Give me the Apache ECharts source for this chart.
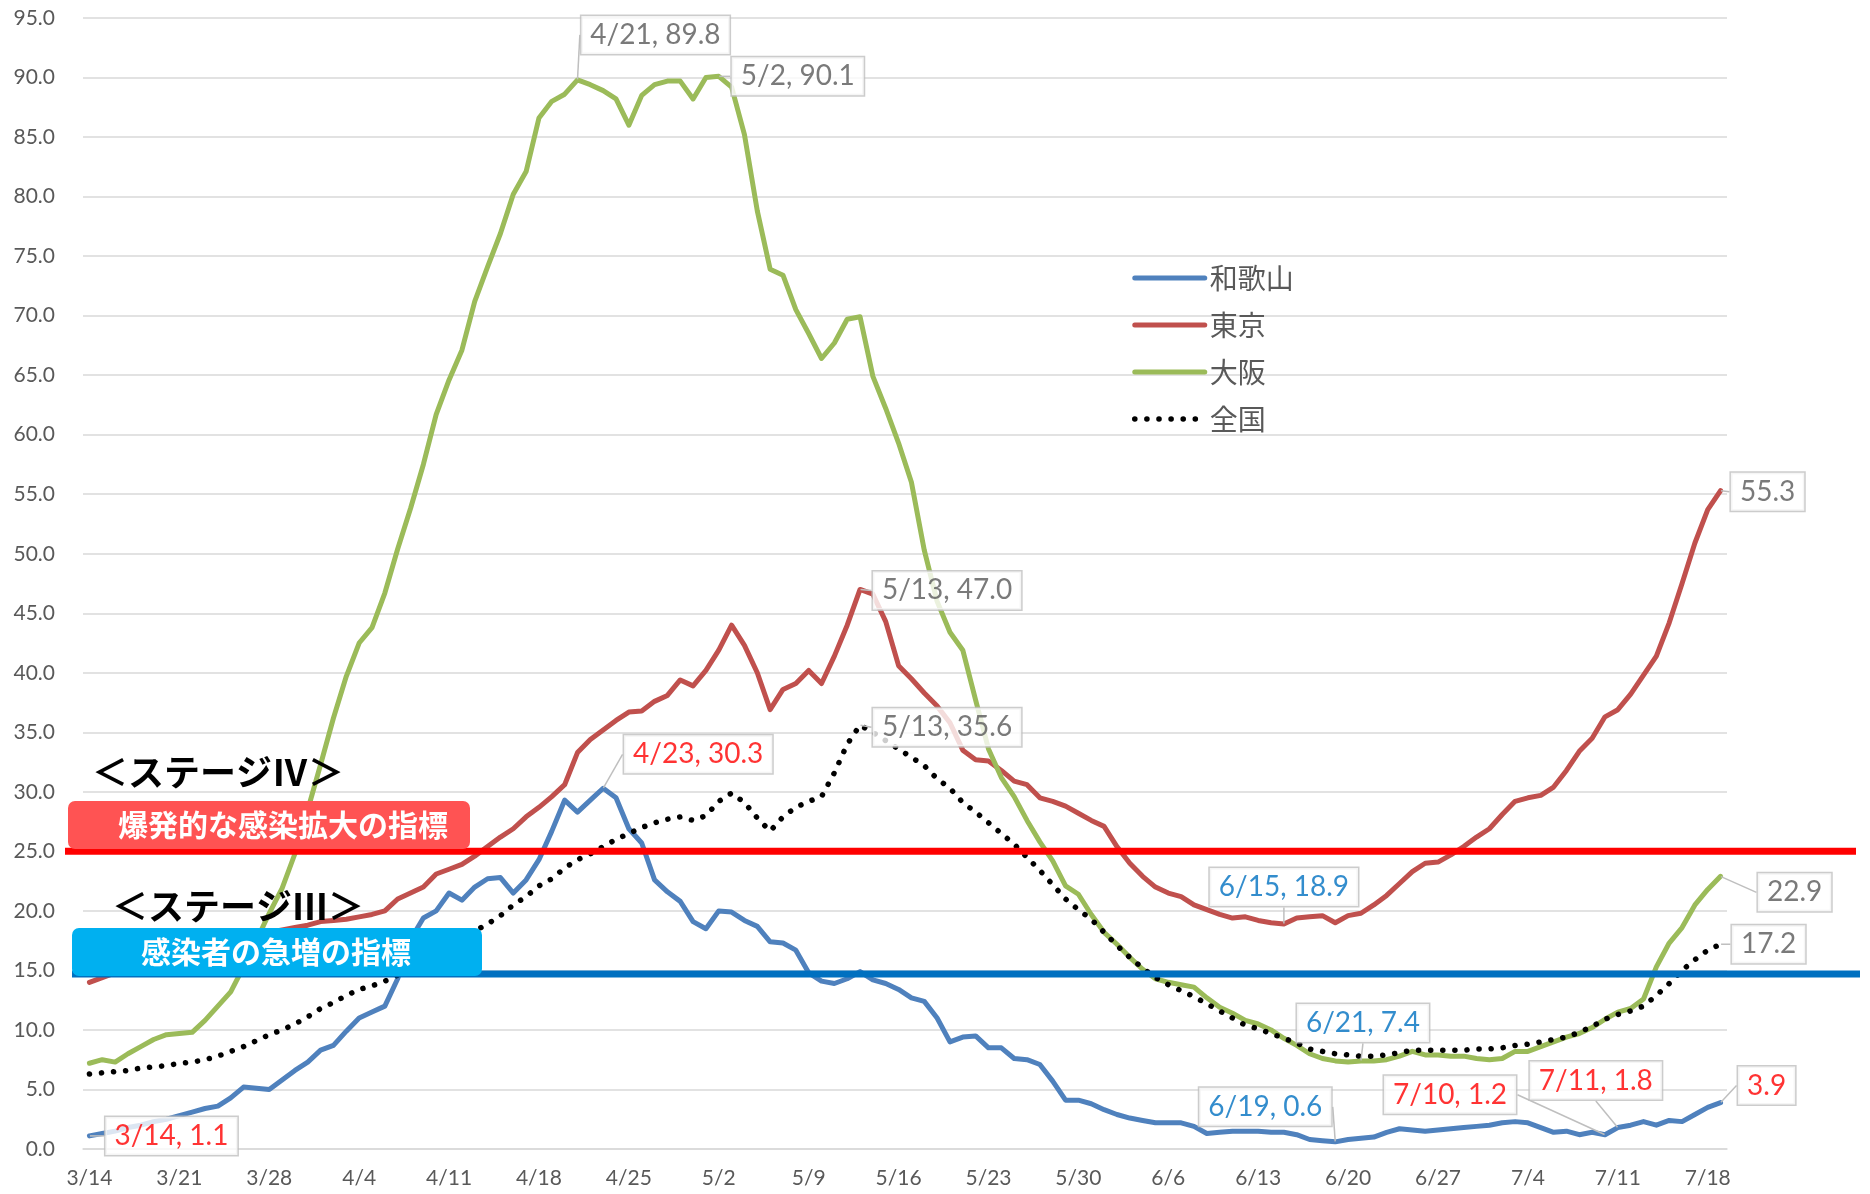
<!DOCTYPE html>
<html>
<head>
<meta charset="UTF-8">
<title>直近1週間の人口10万人あたり新規感染者数</title>
<script src="https://cdn.jsdelivr.net/npm/echarts@6/dist/echarts.min.js"></script>
<style>html,body{margin:0;padding:0;background:#fff;}</style>
</head>
<body>
<div id="chart" style="width:1870px;height:1194px;"></div>
<script>
// 日付 3/14 〜 7/19
const dates = [];
for (let d = new Date(2021, 2, 14); dates.length < 128; d.setDate(d.getDate() + 1)) {
  dates.push((d.getMonth() + 1) + '/' + d.getDate());
}

const wakayama = [1.1, 1.3, 1.5, 1.8, 2.0, 2.3, 2.5, 2.8, 3.1, 3.4, 3.6, 4.3, 5.2, 5.1, 5.0, 5.8, 6.6, 7.3, 8.3, 8.7,
  9.9, 11.0, 11.5, 12.0, 14.3, 17.6, 19.4, 20.0, 21.5, 20.9, 22.0, 22.7, 22.8, 21.5, 22.6, 24.3, 26.7, 29.3, 28.3, 29.3,
  30.3, 29.5, 26.9, 25.7, 22.6, 21.6, 20.8, 19.1, 18.5, 20.0, 19.9, 19.2, 18.7, 17.4, 17.3, 16.7, 14.8, 14.1, 13.9, 14.3,
  14.9, 14.2, 13.9, 13.4, 12.7, 12.4, 11.0, 9.0, 9.4, 9.5, 8.5, 8.5, 7.6, 7.5, 7.1, 5.7, 4.1, 4.1, 3.8, 3.3,
  2.9, 2.6, 2.4, 2.2, 2.2, 2.2, 1.9, 1.3, 1.4, 1.5, 1.5, 1.5, 1.4, 1.4, 1.2, 0.8, 0.7, 0.6, 0.8, 0.9,
  1.0, 1.4, 1.7, 1.6, 1.5, 1.6, 1.7, 1.8, 1.9, 2.0, 2.2, 2.3, 2.2, 1.8, 1.4, 1.5, 1.2, 1.4, 1.2, 1.8,
  2.0, 2.3, 2.0, 2.4, 2.3, 2.9, 3.5, 3.9];

const tokyo = [14.0, 14.4, 14.8, 15.1, 15.4, 15.6, 15.9, 16.2, 16.5, 16.8, 17.0, 17.3, 17.6, 17.9, 18.2, 18.4, 18.6, 18.8, 19.1, 19.2,
  19.3, 19.5, 19.7, 20.0, 21.0, 21.5, 22.0, 23.1, 23.5, 23.9, 24.6, 25.4, 26.2, 26.9, 27.9, 28.7, 29.6, 30.6, 33.3, 34.4,
  35.2, 36.0, 36.7, 36.8, 37.6, 38.1, 39.4, 38.9, 40.2, 41.9, 44.0, 42.3, 40.0, 36.9, 38.6, 39.1, 40.2, 39.1, 41.4, 44.0,
  47.0, 46.6, 44.3, 40.6, 39.5, 38.3, 37.2, 35.8, 33.5, 32.7, 32.6, 31.8, 30.9, 30.6, 29.5, 29.2, 28.8, 28.2, 27.6, 27.1,
  25.4, 24.0, 22.9, 22.0, 21.5, 21.2, 20.5, 20.1, 19.7, 19.4, 19.5, 19.2, 19.0, 18.9, 19.4, 19.5, 19.6, 19.0, 19.6, 19.8,
  20.5, 21.3, 22.3, 23.3, 24.0, 24.1, 24.7, 25.4, 26.2, 26.9, 28.1, 29.2, 29.5, 29.7, 30.4, 31.8, 33.4, 34.5, 36.3, 36.9,
  38.2, 39.8, 41.4, 44.2, 47.5, 50.9, 53.7, 55.3];

const osaka = [7.2, 7.5, 7.3, 8.0, 8.6, 9.2, 9.6, 9.7, 9.8, 10.8, 12.0, 13.2, 15.3, 17.5, 19.8, 21.9, 24.8, 28.5, 32.3, 36.2,
  39.7, 42.5, 43.8, 46.7, 50.4, 53.8, 57.5, 61.7, 64.6, 67.1, 71.2, 74.1, 76.9, 80.2, 82.1, 86.6, 88.0, 88.6, 89.8, 89.4,
  88.9, 88.2, 86.0, 88.5, 89.4, 89.7, 89.7, 88.2, 90.0, 90.1, 89.2, 85.2, 78.8, 73.9, 73.4, 70.5, 68.5, 66.4, 67.7, 69.7,
  69.9, 64.9, 62.2, 59.3, 56.0, 50.3, 46.0, 43.4, 41.9, 37.7, 33.6, 31.2, 29.6, 27.6, 25.8, 24.2, 22.1, 21.4, 19.7, 18.2,
  17.2, 16.1, 15.1, 14.3, 14.0, 13.8, 13.6, 12.7, 11.9, 11.4, 10.8, 10.5, 10.0, 9.3, 8.7, 8.0, 7.6, 7.4, 7.3, 7.4,
  7.4, 7.5, 7.8, 8.2, 7.9, 7.9, 7.8, 7.8, 7.6, 7.5, 7.6, 8.2, 8.2, 8.6, 9.0, 9.4, 9.7, 10.2, 10.9, 11.5,
  11.8, 12.6, 15.3, 17.3, 18.6, 20.5, 21.8, 22.9];

const zenkoku = [6.3, 6.4, 6.5, 6.6, 6.8, 6.9, 7.0, 7.2, 7.3, 7.5, 7.8, 8.2, 8.6, 9.1, 9.6, 10.0, 10.5, 11.1, 11.8, 12.3,
  12.9, 13.4, 13.7, 14.1, 14.6, 15.2, 15.8, 16.4, 17.0, 17.6, 18.3, 18.9, 19.6, 20.5, 21.2, 22.1, 22.7, 23.6, 24.3, 24.8,
  25.4, 26.0, 26.5, 27.0, 27.4, 27.7, 27.9, 27.6, 28.0, 29.2, 29.9, 29.1, 27.8, 26.7, 27.9, 28.7, 29.2, 29.6, 31.6, 34.0,
  35.6, 35.0, 34.3, 33.6, 32.9, 32.2, 31.1, 30.3, 29.1, 28.3, 27.4, 26.5, 25.6, 24.5, 23.4, 22.2, 21.0, 20.1, 19.3, 18.2,
  17.1, 16.1, 15.2, 14.4, 13.8, 13.3, 12.8, 12.2, 11.6, 11.0, 10.4, 10.1, 9.7, 9.3, 8.9, 8.4, 8.2, 8.0, 7.9, 7.8,
  7.8, 7.9, 8.1, 8.3, 8.3, 8.3, 8.3, 8.3, 8.4, 8.4, 8.5, 8.7, 8.8, 9.0, 9.2, 9.4, 9.8, 10.3, 10.9, 11.3,
  11.6, 12.0, 12.9, 13.9, 15.0, 15.9, 16.7, 17.2];

const seriesNames = ['和歌山', '東京', '大阪', '全国'];
const seriesValues = {'和歌山': wakayama, '東京': tokyo, '大阪': osaka, '全国': zenkoku};

// ステージの指標（25：ステージⅣ、15：ステージⅢ）
const stage4 = 25;
const stage3 = 14.7;

// 吹き出し: [系列, 日付index, 日付表示, 文字色, dx, dy]
const callouts = [
  ['大阪', 38, true, '#595959', 78, -45],
  ['大阪', 49, true, '#595959', 79, 0],
  ['東京', 60, true, '#595959', 87, 1],
  ['全国', 60, true, '#595959', 87, 2],
  ['和歌山', 40, true, '#FF0000', 95, -34],
  ['和歌山', 0, true, '#FF0000', 82, 0],
  ['東京', 93, true, '#0070C0', 0, -37],
  ['大阪', 99, true, '#0070C0', 2, -38],
  ['和歌山', 97, true, '#0070C0', -70, -35],
  ['和歌山', 118, true, '#FF0000', -155, -40],
  ['和歌山', 119, true, '#FF0000', -22, -47],
  ['和歌山', 127, false, '#FF0000', 46, -17],
  ['東京', 127, false, '#595959', 47, 1],
  ['大阪', 127, false, '#595959', 74, 16],
  ['全国', 127, false, '#595959', 48, 0]
];

const font = 'Lato, "Noto Sans CJK JP", sans-serif';
const colors = ['#4F81BD', '#C0504D', '#9BBB59', '#000000'];
const dotted = {color: '#000', width: 5.5, type: [0.1, 12], cap: 'round'};
const chart = echarts.init(document.getElementById('chart'));

const lineSeries = seriesNames.map((name, k) => ({
  name: name,
  type: 'line',
  data: seriesValues[name],
  symbol: 'none',
  z: k === 3 ? 4 : 3,
  lineStyle: k === 3 ? dotted : {color: colors[k], width: 5, cap: 'round', join: 'round'},
  itemStyle: {color: colors[k]}
}));

const calloutSeries = {
  name: 'callout',
  type: 'scatter',
  symbol: 'circle',
  symbolSize: 1,
  z: 10,
  itemStyle: {color: 'rgba(0,0,0,0)'},
  data: callouts.map(c => {
    const v = seriesValues[c[0]][c[1]];
    const txt = c[2] ? dates[c[1]] + ', ' + v.toFixed(1) : v.toFixed(1);
    return {
      value: [c[1], v],
      label: {formatter: txt, color: c[3]}
    };
  }),
  label: {
    show: true,
    position: 'inside',
    fontFamily: font,
    fontSize: 28,
    backgroundColor: '#fff',
    borderColor: '#BFBFBF',
    borderWidth: 1.5,
    padding: [6, 9, 4, 9]
  },
  labelLine: {show: true, lineStyle: {color: '#BFBFBF', width: 1.5}},
  labelLayout: function (params) {
    const c = callouts[params.dataIndex];
    return {dx: c[4], dy: c[5]};
  },
  emphasis: {disabled: true},
  silent: true
};

chart.setOption({
  animation: false,
  textStyle: {fontFamily: font},
  grid: {left: 83, right: 143, top: 18, bottom: 45},
  legend: {
    data: seriesNames.map((name, k) => ({
      name: name,
      lineStyle: k === 3 ? dotted : {color: colors[k], width: 5, cap: 'round'}
    })),
    orient: 'vertical',
    left: 1127,
    top: 259,
    itemWidth: 70,
    itemHeight: 20,
    itemGap: 19,
    itemStyle: {opacity: 0},
    textStyle: {color: '#595959', fontSize: 28, lineHeight: 28, fontFamily: '"Noto Sans CJK JP", sans-serif'}
  },
  xAxis: {
    type: 'category',
    data: dates,
    boundaryGap: true,
    axisLine: {lineStyle: {color: '#D9D9D9', width: 1.5}},
    axisTick: {interval: 6, length: 8, lineStyle: {color: '#D9D9D9', width: 1.5}},
    axisLabel: {interval: 6, margin: 19, color: '#595959', fontSize: 21, fontFamily: font},
    splitLine: {show: false}
  },
  yAxis: {
    type: 'value',
    min: 0,
    max: 95,
    interval: 5,
    axisLine: {show: false},
    axisTick: {show: false},
    axisLabel: {margin: 28, color: '#595959', fontSize: 21, fontFamily: font, formatter: v => v.toFixed(1)},
    splitLine: {lineStyle: {color: '#D9D9D9', width: 1.5}}
  },
  series: lineSeries.concat([calloutSeries])
});

// 指標ラインと見出し
const y4 = chart.convertToPixel({yAxisIndex: 0}, stage4);
const y3 = chart.convertToPixel({yAxisIndex: 0}, stage3);
const jp = '"Noto Sans CJK JP"';
chart.setOption({
  graphic: [
    {type: 'line', z: 50, shape: {x1: 65, y1: y4, x2: 1856, y2: y4}, style: {stroke: '#FF0000', lineWidth: 7}},
    {type: 'line', z: 50, shape: {x1: 72, y1: y3, x2: 1860, y2: y3}, style: {stroke: '#0070C0', lineWidth: 7}},
    {type: 'rect', z: 60, shape: {x: 68, y: 801, width: 402, height: 48, r: 7}, style: {fill: '#FF5353'}},
    {type: 'text', z: 61, x: 283, y: 825, style: {text: '爆発的な感染拡大の指標', fill: '#fff', fontSize: 30, fontWeight: 'bold', fontFamily: jp, align: 'center', verticalAlign: 'middle'}},
    {type: 'rect', z: 60, shape: {x: 72, y: 928, width: 410, height: 48, r: 7}, style: {fill: '#00B0F0'}},
    {type: 'text', z: 61, x: 276, y: 952, style: {text: '感染者の急増の指標', fill: '#fff', fontSize: 30, fontWeight: 'bold', fontFamily: jp, align: 'center', verticalAlign: 'middle'}},
    {type: 'text', z: 62, x: 92, y: 772, style: {text: '＜ステージⅣ＞', fill: '#000', fontSize: 36, fontWeight: 'bold', fontFamily: jp, align: 'left', verticalAlign: 'middle'}},
    {type: 'text', z: 62, x: 112, y: 906, style: {text: '＜ステージⅢ＞', fill: '#000', fontSize: 36, fontWeight: 'bold', fontFamily: jp, align: 'left', verticalAlign: 'middle'}}
  ]
});
</script>
</body>
</html>
